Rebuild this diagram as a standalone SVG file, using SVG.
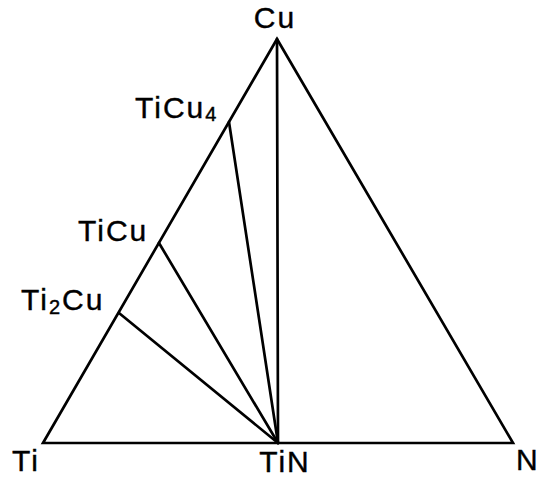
<svg xmlns="http://www.w3.org/2000/svg" width="543" height="480" viewBox="0 0 543 480">
<style>
.ln{stroke:#000;stroke-width:2.7;fill:none;stroke-linejoin:miter;stroke-linecap:round}
.lb{font-family:"Liberation Sans",Arial,sans-serif;font-size:30px;fill:#000;stroke:#000;stroke-width:0.4;letter-spacing:2px}
.sub{font-size:20px}
</style>
<rect width="543" height="480" fill="#fff"/>
<g id="connectors">
<polygon class="ln" points="43,443 277,39 513,443"/>
<line class="ln" x1="277" y1="39" x2="278" y2="443"/>
<line class="ln" x1="229" y1="122" x2="278" y2="443"/>
<line class="ln" x1="159" y1="243" x2="278" y2="443"/>
<line class="ln" x1="119" y1="313" x2="278" y2="443"/>
</g>
<g id="Cu"><text class="lb" x="275" y="28" text-anchor="middle">Cu</text></g>
<g id="Ti"><text class="lb" x="12" y="471">Ti</text></g>
<g id="TiN"><text class="lb" x="285" y="472" text-anchor="middle">TiN</text></g>
<g id="N"><text class="lb" x="516" y="470">N</text></g>
<g id="TiCu4"><text class="lb" x="135" y="118">TiCu<tspan class="sub" dy="3">4</tspan></text></g>
<g id="TiCu"><text class="lb" x="78" y="241">TiCu</text></g>
<g id="Ti2Cu"><text class="lb" x="21" y="310">Ti<tspan class="sub" dy="4">2</tspan><tspan dy="-4">Cu</tspan></text></g>
</svg>
